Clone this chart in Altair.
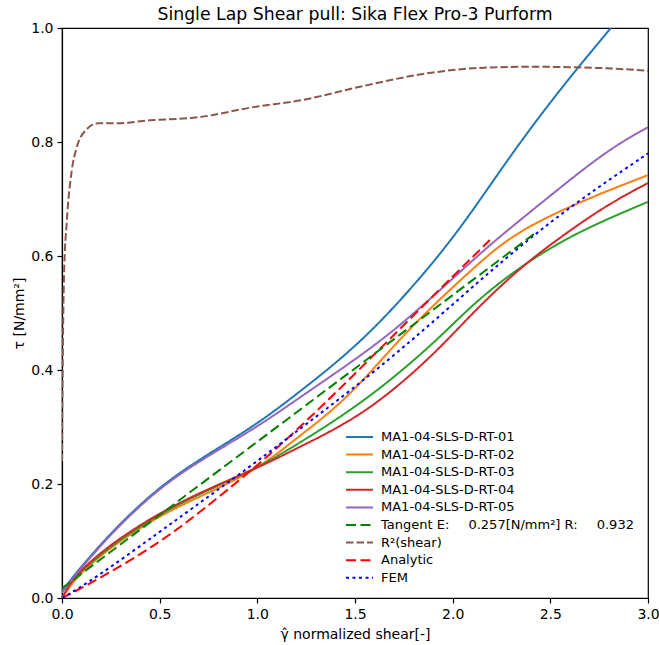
import altair as alt
import pandas as pd

NB = "\u00a0"
GAP = NB * 4 + "\u2009"
names = [
    "MA1-04-SLS-D-RT-01",
    "MA1-04-SLS-D-RT-02",
    "MA1-04-SLS-D-RT-03",
    "MA1-04-SLS-D-RT-04",
    "MA1-04-SLS-D-RT-05",
    "Tangent E:" + GAP + "0.257[N/mm²] R:" + GAP + "0.932",
    "R²(shear)",
    "Analytic",
    "FEM",
]
colors = ["#1f77b4", "#ff7f0e", "#2ca02c", "#d62728", "#9467bd",
          "#008000", "#8c564b", "#ff0000", "#0000ff"]
dashes = [[1, 0], [1, 0], [1, 0], [1, 0], [1, 0],
          [10, 4.5], [7.5, 3], [10, 4.5], [3, 3.5]]
widths = [2, 2, 2, 2, 2, 2.6, 2.4, 2.6, 2.8]

rt01_x = [0, 0.05, 0.1, 0.25, 0.5, 0.75, 1.0, 1.218, 1.56, 1.935, 2.14, 2.31, 2.5, 2.64, 2.81]
rt01_y = [0.01, 0.035, 0.055, 0.115, 0.197, 0.253, 0.305, 0.362, 0.455, 0.60, 0.698, 0.783, 0.87, 0.93, 1.0]

rt02_x = [0, 0.05, 0.1, 0.25, 0.5, 0.75, 1.0, 1.218, 1.39, 1.56, 1.73, 1.935, 2.19, 2.31, 2.45, 2.70, 3.0]
rt02_y = [0.0, 0.025, 0.045, 0.09, 0.145, 0.185, 0.225, 0.285, 0.33, 0.388, 0.455, 0.525, 0.605, 0.635, 0.663, 0.702, 0.742]

rt03_x = [0, 0.05, 0.1, 0.25, 0.5, 0.75, 1.0, 1.218, 1.56, 1.90, 2.1, 2.33, 2.62, 3.0]
rt03_y = [0.01, 0.03, 0.048, 0.092, 0.148, 0.19, 0.228, 0.272, 0.347, 0.445, 0.515, 0.578, 0.640, 0.695]

rt04_x = [0, 0.05, 0.1, 0.25, 0.5, 0.75, 1.0, 1.218, 1.56, 1.90, 2.1, 2.33, 2.53, 2.79, 3.0]
rt04_y = [0.0, 0.03, 0.05, 0.095, 0.15, 0.192, 0.228, 0.265, 0.324, 0.425, 0.50, 0.575, 0.628, 0.69, 0.728]

rt05_x = [0, 0.05, 0.1, 0.25, 0.5, 0.75, 1.0, 1.218, 1.56, 1.765, 2.0, 2.19, 2.45, 2.79, 3.0]
rt05_y = [0.01, 0.033, 0.053, 0.113, 0.195, 0.25, 0.30, 0.352, 0.432, 0.488, 0.56, 0.62, 0.692, 0.786, 0.826]

tan_x = [0.0, 2.43]
tan_y = [0.017, 0.642]

r2_x = [0, 0.004, 0.01, 0.025, 0.05, 0.075, 0.12, 0.185, 0.28, 0.45, 0.71, 0.96, 1.25, 1.5, 1.88, 2.14, 2.4, 2.74, 3.0]
r2_y = [0.24, 0.42, 0.56, 0.663, 0.75, 0.79, 0.82, 0.833, 0.833, 0.838, 0.844, 0.86, 0.875, 0.895, 0.921, 0.93, 0.932, 0.93, 0.925]

ana_x = [0, 0.16, 0.5, 0.74, 1.0, 1.22, 1.47, 1.82, 2.19]
ana_y = [0.0, 0.028, 0.096, 0.16, 0.232, 0.30, 0.383, 0.503, 0.628]

fem_x = [0, 0.16, 0.5, 0.75, 1.0, 1.25, 1.5, 1.75, 2.0, 2.25, 2.5, 2.75, 3.0]
fem_y = [0.0, 0.032, 0.116, 0.178, 0.24, 0.305, 0.37, 0.44, 0.515, 0.59, 0.66, 0.722, 0.78]

series_xy = [(rt01_x, rt01_y), (rt02_x, rt02_y), (rt03_x, rt03_y), (rt04_x, rt04_y),
             (rt05_x, rt05_y), (tan_x, tan_y), (r2_x, r2_y), (ana_x, ana_y), (fem_x, fem_y)]

rows = []
for k, (name, (xs, ys)) in enumerate(zip(names, series_xy)):
    for i, (xv, yv) in enumerate(zip(xs, ys)):
        rows.append({"series": name, "k": k, "x": xv, "y": yv, "i": i})
df = pd.DataFrame(rows)

legend_props = dict(
    title=None, orient="none", legendX=291, legendY=402.5,
    labelFont="DejaVu Sans", labelFontSize=13, labelColor="black",
    symbolType="M-3,0H3", symbolSize=81, symbolStrokeWidth=2,
    labelOffset=15, rowPadding=3.6, padding=0, labelLimit=400,
)

enc = dict(
    x=alt.X("x:Q", scale=alt.Scale(domain=[0, 3], nice=False, zero=False),
            axis=alt.Axis(values=[0, 0.5, 1.0, 1.5, 2.0, 2.5, 3.0], format=".1f",
                          labelFlush=False, title="γ\u0302 normalized shear[-]")),
    y=alt.Y("y:Q", scale=alt.Scale(domain=[0, 1], nice=False, zero=False),
            axis=alt.Axis(values=[0, 0.2, 0.4, 0.6, 0.8, 1.0], format=".1f",
                          labelFlush=False, title="τ [N/mm²]")),
    color=alt.Color("series:N", scale=alt.Scale(domain=names, range=colors),
                    legend=alt.Legend(**legend_props)),
    strokeDash=alt.StrokeDash("series:N", scale=alt.Scale(domain=names, range=dashes),
                              legend=alt.Legend(**legend_props)),
    strokeWidth=alt.StrokeWidth("series:N", scale=alt.Scale(domain=names, range=widths),
                                legend=None),
    order="i:Q",
)

base = alt.Chart(df)
smooth = base.transform_filter("datum.k != 6 && datum.k != 5").mark_line(
    clip=True, interpolate="basis").encode(**enc)
straight = base.transform_filter("datum.k == 5").mark_line(clip=True).encode(**enc)
knee = base.transform_filter("datum.k == 6").mark_line(
    clip=True, interpolate="monotone").encode(**enc)

chart = alt.layer(smooth, straight, knee).properties(
    width=586, height=570,
    title=alt.Title("Single Lap Shear pull: Sika Flex Pro-3 Purform",
                    font="DejaVu Sans", fontSize=17.3, fontWeight="normal",
                    color="black", frame="group", offset=8, dy=10),
    autosize=alt.AutoSizeParams(type="none"),
    padding={"left": 62, "top": 28, "right": 11, "bottom": 47},
).configure_view(
    stroke="black", strokeWidth=1.2
).configure_axis(
    grid=False, domainColor="black", tickColor="black", labelColor="black",
    titleColor="black", labelFont="DejaVu Sans", titleFont="DejaVu Sans",
    labelFontSize=14, titleFontSize=14, titleFontWeight="normal",
    tickSize=5, labelPadding=4, domainWidth=1.2, tickWidth=1.2,
).configure_axisX(titlePadding=6).configure_axisY(titlePadding=4)

chart.save("out.html", embed_options={"renderer": "svg", "actions": False})
